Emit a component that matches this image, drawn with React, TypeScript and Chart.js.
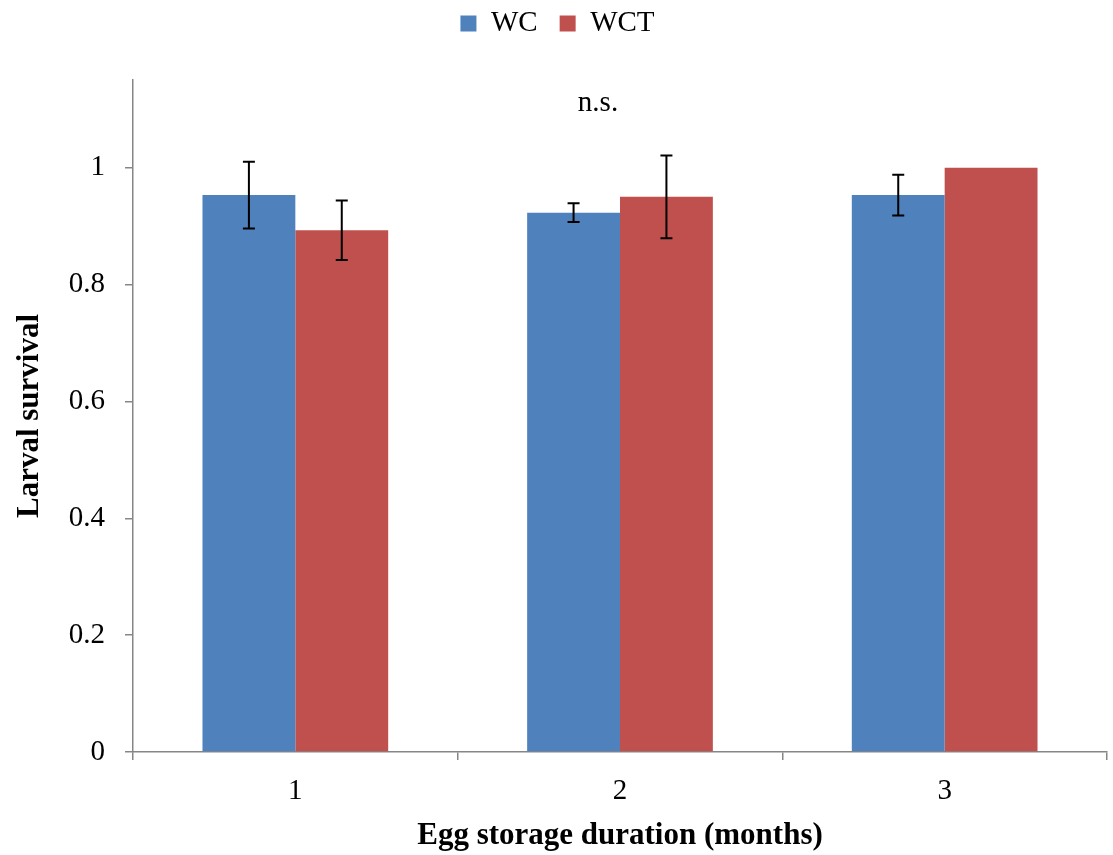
import React, { useEffect, useRef } from "react";
import { Chart, registerables } from "chart.js";

Chart.register(...registerables);

const categories = ["1", "2", "3"];
const seriesNames = ["WC", "WCT"];
const wcValues = [0.953, 0.923, 0.953];
const wctValues = [0.893, 0.95, 1.0];
const wcErrors = [0.057, 0.016, 0.035];
const wctErrors = [0.051, 0.071, 0];
const yTicks = [0, 0.2, 0.4, 0.6, 0.8, 1];
const annotationText = "n.s.";

const FONT = "'Liberation Serif', 'Times New Roman', serif";
const AXIS_COLOR = "#868686";

const errorBarPlugin = {
  id: "errorBars",
  afterDatasetsDraw(chart: any) {
    const ctx = chart.ctx;
    const yScale = chart.scales.y;
    const errs = [wcErrors, wctErrors];
    ctx.save();
    ctx.strokeStyle = "#000";
    ctx.lineWidth = 2;
    chart.data.datasets.forEach((ds: any, di: number) => {
      const meta = chart.getDatasetMeta(di);
      meta.data.forEach((el: any, i: number) => {
        const e = errs[di][i];
        if (!e) return;
        const v = ds.data[i];
        const yTop = yScale.getPixelForValue(v + e);
        const yBot = yScale.getPixelForValue(v - e);
        const x = el.x;
        ctx.beginPath();
        ctx.moveTo(x, yTop);
        ctx.lineTo(x, yBot);
        ctx.moveTo(x - 6, yTop);
        ctx.lineTo(x + 6, yTop);
        ctx.moveTo(x - 6, yBot);
        ctx.lineTo(x + 6, yBot);
        ctx.stroke();
      });
    });
    ctx.restore();
  },
};

const annotationPlugin = {
  id: "nsText",
  afterDraw(chart: any) {
    const ctx = chart.ctx;
    const x = chart.scales.x.getPixelForValue(1) - 22;
    const y = chart.scales.y.getPixelForValue(1.11);
    ctx.save();
    ctx.font = `29px ${FONT}`;
    ctx.fillStyle = "#000";
    ctx.textAlign = "center";
    ctx.textBaseline = "middle";
    ctx.fillText(annotationText, x, y);
    ctx.restore();
  },
};

const legendSpacePlugin = {
  id: "legendSpace",
  beforeLayout(chart: any) {
    const lg = chart.legend;
    if (lg && !lg.__patched) {
      const orig = lg.fit;
      lg.fit = function () {
        orig.call(this);
        this.height += 32;
      };
      lg.__patched = true;
    }
  },
};

export default function App() {
  const ref = useRef<HTMLCanvasElement>(null);
  useEffect(() => {
    if (!ref.current) return;
    const chart = new Chart(ref.current, {
      type: "bar",
      data: {
        labels: categories,
        datasets: [
          {
            label: seriesNames[0],
            data: wcValues,
            backgroundColor: "#4F81BD",
            borderWidth: 0,
          },
          {
            label: seriesNames[1],
            data: wctValues,
            backgroundColor: "#C0504D",
            borderWidth: 0,
          },
        ],
      },
      options: {
        animation: false,
        responsive: false,
        layout: { padding: { top: -13, right: 6, bottom: 0, left: 8 } },
        plugins: {
          tooltip: { enabled: false },
          legend: {
            display: true,
            position: "top",
            labels: {
              font: { family: FONT, size: 29 },
              color: "#000",
              boxWidth: 16,
              boxHeight: 16,
              padding: 22,
            },
          },
        },
        datasets: {
          bar: { categoryPercentage: 0.572, barPercentage: 1 },
        },
        scales: {
          x: {
            grid: {
              display: true,
              drawOnChartArea: false,
              drawTicks: true,
              tickLength: 8,
              color: AXIS_COLOR,
              lineWidth: 1.5,
              offset: true,
            },
            border: { display: true, color: AXIS_COLOR, width: 1.5 },
            ticks: {
              font: { family: FONT, size: 29 },
              color: "#000",
              padding: 14,
              maxRotation: 0,
            },
            title: {
              display: true,
              text: "Egg storage duration (months)",
              font: { family: FONT, size: 31, weight: "bold" },
              color: "#000",
              padding: { top: 0, bottom: 0 },
            },
            afterFit(scale: any) {
              scale.height = 103;
            },
          },
          y: {
            min: 0,
            max: 1.15,
            afterBuildTicks(scale: any) {
              scale.ticks = yTicks.map((v) => ({ value: v }));
            },
            grid: {
              display: true,
              drawOnChartArea: false,
              drawTicks: true,
              tickLength: 8,
              color: AXIS_COLOR,
              lineWidth: 1.5,
            },
            border: { display: true, color: AXIS_COLOR, width: 1.5 },
            ticks: {
              font: { family: FONT, size: 29 },
              color: "#000",
              padding: 20,
              callback: (v: any) => String(Math.round(Number(v) * 10) / 10),
            },
            title: {
              display: true,
              text: "Larval survival",
              font: { family: FONT, size: 31, weight: "bold" },
              color: "#000",
              padding: { top: 3, bottom: 0 },
            },
            afterFit(scale: any) {
              scale.width = 125;
            },
          },
        },
      },
      plugins: [legendSpacePlugin, errorBarPlugin, annotationPlugin],
    });
    return () => chart.destroy();
  }, []);
  return (
    <div style={{ position: "absolute", left: 0, top: 0, width: 1113, height: 855, background: "#fff" }}>
      <canvas ref={ref} width={1113} height={855} style={{ width: 1113, height: 855 }} />
    </div>
  );
}
